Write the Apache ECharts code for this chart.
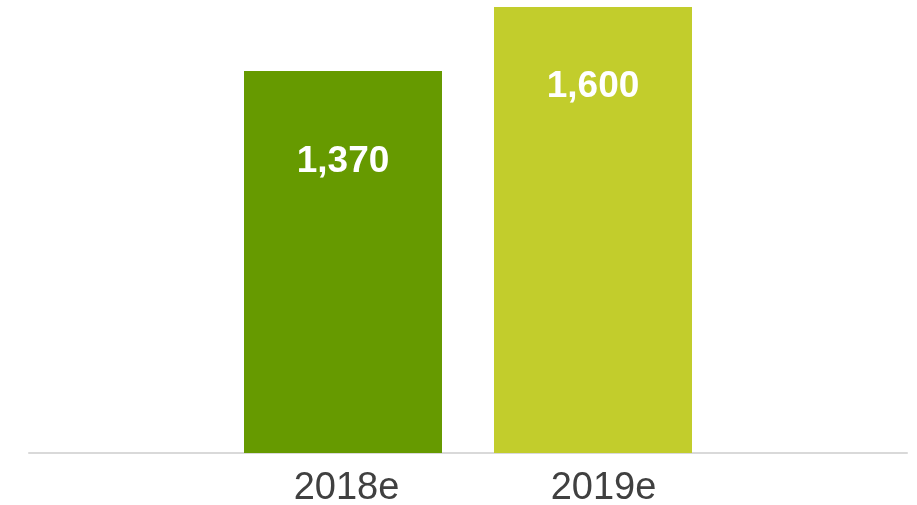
<!DOCTYPE html>
<html>
<head>
<meta charset="utf-8">
<script src="https://cdn.jsdelivr.net/npm/echarts@6/dist/echarts.min.js"></script>
<style>
html,body{margin:0;padding:0;background:#fff;}
#chart{width:917px;height:505px;}
</style>
</head>
<body>
<div id="chart"></div>
<script>
const categories = ['2018e', '2019e'];
const values = [1370, 1600];
const yMax = 1600;

const barColors = ['#669A00', '#C2CD2C'];
const labelDistances = [72, 61];
const catLabelShift = [7, 21];
const FONT = '"Liberation Sans", Arial, sans-serif';

const chart = echarts.init(document.getElementById('chart'), null, {renderer: 'canvas'});
chart.setOption({
  animation: false,
  grid: [
    {left: 218, right: 199, top: 7, bottom: 52, outerBoundsMode: 'none', containLabel: false},
    {left: 29, right: 10, top: 7, bottom: 52, outerBoundsMode: 'none', containLabel: false}
  ],
  xAxis: [
    {
      type: 'category', gridIndex: 0,
      data: categories.map((c, i) => ({value: c, textStyle: {padding: [0, 0, 0, catLabelShift[i]]}})),
      axisLine: {show: false}, axisTick: {show: false},
      axisLabel: {fontSize: 38, color: '#404040', fontFamily: FONT, margin: 17}
    },
    {
      type: 'value', gridIndex: 1, min: 0, max: 1,
      axisLine: {show: true, lineStyle: {color: '#D9D9D9', width: 2}},
      axisTick: {show: false}, axisLabel: {show: false}, splitLine: {show: false}
    }
  ],
  yAxis: [
    {type: 'value', gridIndex: 0, min: 0, max: yMax, show: false, splitLine: {show: false}},
    {type: 'value', gridIndex: 1, min: 0, max: 1, show: false, splitLine: {show: false}}
  ],
  series: [{
    type: 'bar',
    xAxisIndex: 0, yAxisIndex: 0,
    barWidth: 198,
    data: values.map((v, i) => ({
      value: v,
      itemStyle: {color: barColors[i]},
      label: {distance: labelDistances[i]}
    })),
    label: {
      show: true,
      position: 'insideTop',
      color: '#FFFFFF',
      fontWeight: 'bold',
      fontSize: 37,
      fontFamily: FONT,
      formatter: p => p.value.toLocaleString('en-US')
    }
  }]
});
</script>
</body>
</html>
